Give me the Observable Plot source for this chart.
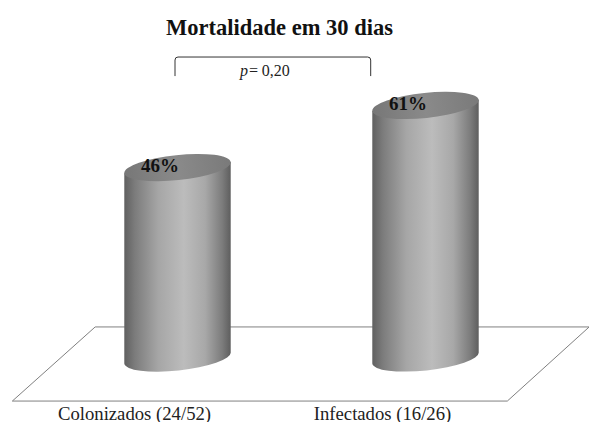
<!DOCTYPE html>
<html><head><meta charset="utf-8">
<script src="https://cdn.jsdelivr.net/npm/d3@7"></script>
<script src="https://cdn.jsdelivr.net/npm/@observablehq/plot@0.6"></script>
<style>html,body{margin:0;padding:0;background:#fff}svg{display:block}</style>
</head><body><div id="chart"></div>
<script>
const categories = ["Colonizados (24/52)", "Infectados (16/26)"];
const mortality = [46, 61];
const valueLabels = ["46%", "61%"];
const chartTitle = "Mortalidade em 30 dias";
const pLabel = "p=";
const pValue = "0,20";
const rows = categories.map((c, i) => ({c, v: mortality[i], t: valueLabels[i]}));

const serif = "'Liberation Serif','Times New Roman',serif";
const tilt = -6, rx = 53.5, ry = 12.5;
const rad = tilt * Math.PI / 180;
const ex = rx * Math.cos(rad), ey = rx * Math.sin(rad);

function cylinders(index, {x, y}, values, dims, ctx) {
  const g = d3.select(ctx.document.createElementNS("http://www.w3.org/2000/svg", "g"));
  const defs = g.append("defs");
  const body = defs.append("linearGradient").attr("id", "cylBody");
  [[0,"#606060"],[.1,"#7c7c7c"],[.32,"#a6a6a6"],[.56,"#bcbcbc"],[.76,"#a8a8a8"],[.92,"#7c7c7c"],[1,"#5e5e5e"]]
    .forEach(([o,c]) => body.append("stop").attr("offset", o).attr("stop-color", c));
  const lid = defs.append("linearGradient").attr("id", "cylTop");
  [[0,"#777"],[.5,"#8a8a8a"],[1,"#7a7a7a"]]
    .forEach(([o,c]) => lid.append("stop").attr("offset", o).attr("stop-color", c));
  for (const i of index) {
    const cx = x(rows[i].c) + x.bandwidth() / 2;
    const t = y(rows[i].v), b = y(0);
    g.append("path").attr("fill", "url(#cylBody)")
      .attr("d", `M${cx-ex},${t-ey}L${cx-ex},${b-ey}A${rx},${ry} ${tilt} 0 0 ${cx+ex},${b+ey}L${cx+ex},${t+ey}Z`);
    g.append("ellipse").attr("fill", "url(#cylTop)")
      .attr("cx", cx).attr("cy", t).attr("rx", rx).attr("ry", ry)
      .attr("transform", `rotate(${tilt} ${cx} ${t})`);
  }
  return g.node();
}

function floor(index, {x, y}, values, dims, ctx) {
  const p = d3.select(ctx.document.createElementNS("http://www.w3.org/2000/svg", "path"));
  const a = x(categories[0]) + x.bandwidth() / 2, s = x.step();
  const X = u => a + u * s;
  const yb = y(-10.4), yt = y(7.5);
  p.attr("fill", "none").attr("stroke", "#808080").attr("stroke-width", 1)
   .attr("d", `M${X(-.332)},${yt}L${X(1.66)},${yt}L${X(1.33)},${yb}L${X(-.666)},${yb}Z`);
  return p.node();
}

function bracket(index, {x, y}, values, dims, ctx) {
  const svgNS = "http://www.w3.org/2000/svg";
  const g = d3.select(ctx.document.createElementNS(svgNS, "g"));
  const a = x(categories[0]) + x.bandwidth() / 2, s = x.step();
  const x1 = a - 2.5, x2 = a + .779 * s, yt = y(72.7), yb = y(68.1);
  g.append("path").attr("fill", "none").attr("stroke", "#333").attr("stroke-width", 1)
    .attr("d", `M${x1},${yb}V${yt+3}Q${x1},${yt} ${x1+3},${yt}H${x2-3}Q${x2},${yt} ${x2},${yt+3}V${yb}`);
  const t = g.append("text").attr("font-family", serif).attr("font-size", 16).attr("fill", "#222")
    .attr("x", (x1 + x2) / 2 - 8).attr("y", yb - 0.5).attr("text-anchor", "middle");
  t.append("tspan").attr("font-style", "italic").text(pLabel);
  t.append("tspan").attr("dx", 3).text(pValue);
  return g.node();
}

const plot = Plot.plot({
  width: 589, height: 422,
  marginLeft: 0, marginRight: 0, marginTop: 0, marginBottom: 0,
  style: {fontFamily: serif, background: "#fff", overflow: "visible"},
  x: {type: "band", domain: categories, range: [124, 478], paddingInner: 0.5775, paddingOuter: 0, label: null},
  y: {domain: [0, 1], range: [358, 353.86], axis: null, label: null},
  marks: [
    floor,
    Plot.barY(rows, {x: "c", y: "v", render: cylinders}),
    Plot.text(rows, {x: "c", y: "v", text: "t", dx: -18, dy: -2, fontSize: 19, fontWeight: "bold", fill: "#111", fontFamily: serif}),
    bracket,
    Plot.axisX({anchor: "bottom", tickSize: 0, dx: -43.5, dy: -3, tickPadding: 0, fontSize: 18.7, fill: "#222", fontFamily: serif, label: null, lineAnchor: "bottom"}),
    Plot.text([chartTitle], {frameAnchor: "top-left", dx: 279, dy: 27, textAnchor: "middle", lineAnchor: "middle", fontSize: 22.5, fontWeight: "bold", fill: "#111", fontFamily: serif})
  ]
});
document.getElementById("chart").append(plot);
</script></body></html>
